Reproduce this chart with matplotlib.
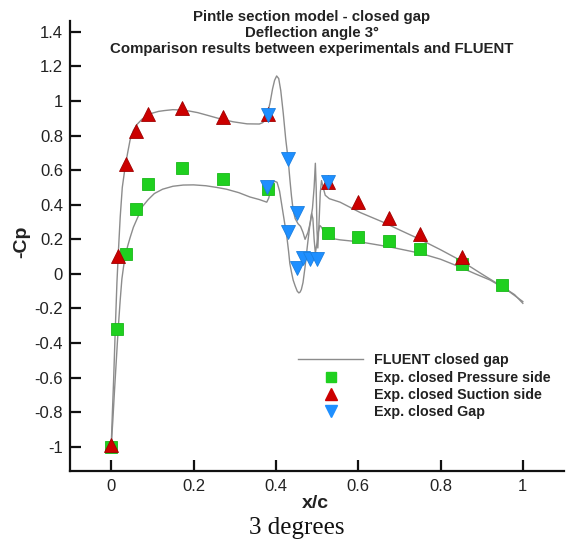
import numpy as np
import matplotlib
matplotlib.use("Agg")
import matplotlib.pyplot as plt
from matplotlib.lines import Line2D
from matplotlib.ticker import FuncFormatter

# FLUENT closed gap: suction branch then pressure branch
fluent_upper_x = [0.0, 0.003, 0.006, 0.01, 0.014, 0.018, 0.022, 0.027, 0.034, 0.04, 0.046,
                  0.054, 0.063, 0.075, 0.087, 0.1, 0.115, 0.13, 0.15, 0.17, 0.19, 0.21,
                  0.233, 0.26, 0.296, 0.33, 0.36, 0.368, 0.374, 0.38, 0.386, 0.392, 0.397,
                  0.402, 0.407, 0.412, 0.418, 0.424, 0.43, 0.434, 0.438, 0.442, 0.447,
                  0.454, 0.46, 0.466, 0.471, 0.478, 0.484, 0.489, 0.493, 0.496, 0.498,
                  0.5, 0.502, 0.505, 0.508, 0.511, 0.515, 0.52, 0.53, 0.556, 0.605, 0.66,
                  0.7, 0.75, 0.8, 0.847, 0.9, 0.951, 0.98, 1.0]
fluent_upper_y = [-1.0, -0.8, -0.61, -0.32, -0.05, 0.15, 0.33, 0.5, 0.62, 0.7, 0.775,
                  0.83, 0.865, 0.895, 0.915, 0.93, 0.94, 0.945, 0.95, 0.948, 0.942, 0.933,
                  0.918, 0.9, 0.88, 0.868, 0.867, 0.875, 0.89, 0.93, 0.99, 1.07, 1.12,
                  1.145, 1.13, 1.06, 0.93, 0.78, 0.66, 0.55, 0.45, 0.37, 0.32, 0.29,
                  0.275, 0.24, 0.2, 0.24, 0.3, 0.38, 0.5, 0.64, 0.5, 0.25, 0.15, 0.3,
                  0.47, 0.54, 0.5, 0.455, 0.435, 0.415, 0.355, 0.3, 0.255, 0.2, 0.14,
                  0.08, 0.0, -0.075, -0.12, -0.17]
fluent_lower_x = [0.0, 0.004, 0.008, 0.012, 0.017, 0.022, 0.026, 0.03, 0.034, 0.04, 0.046,
                  0.054, 0.065, 0.076, 0.09, 0.105, 0.125, 0.15, 0.175, 0.2, 0.23, 0.257,
                  0.28, 0.31, 0.337, 0.36, 0.372, 0.378, 0.383, 0.388, 0.393, 0.398,
                  0.403, 0.409, 0.415, 0.421, 0.427, 0.431, 0.434, 0.438, 0.442, 0.447,
                  0.452, 0.456, 0.459, 0.462, 0.466, 0.471, 0.477, 0.483, 0.487, 0.49,
                  0.493, 0.496, 0.5, 0.503, 0.507, 0.511, 0.515, 0.524, 0.536, 0.556,
                  0.605, 0.677, 0.75, 0.8, 0.847, 0.885, 0.92, 0.96, 1.0]
fluent_lower_y = [-1.0, -0.85, -0.68, -0.52, -0.32, -0.15, -0.03, 0.04, 0.1, 0.16, 0.21,
                  0.27, 0.33, 0.39, 0.43, 0.465, 0.49, 0.507, 0.514, 0.515, 0.51, 0.5,
                  0.49, 0.47, 0.445, 0.43, 0.42, 0.415, 0.44, 0.5, 0.53, 0.535, 0.53,
                  0.48, 0.39, 0.3, 0.21, 0.13, 0.06, 0.01, -0.035, -0.07, -0.1, -0.11,
                  -0.105, -0.09, -0.05, 0.04, 0.17, 0.29, 0.35, 0.32, 0.2, 0.12, 0.18,
                  0.24, 0.28, 0.27, 0.25, 0.225, 0.205, 0.197, 0.185, 0.156, 0.12,
                  0.085, 0.04, 0.0, -0.035, -0.09, -0.16]

# experimental points
pressure_x = [0.0, 0.015, 0.036, 0.061, 0.09, 0.172, 0.272, 0.381, 0.527, 0.6, 0.675,
              0.75, 0.852, 0.949]
pressure_y = [-1.0, -0.32, 0.116, 0.376, 0.52, 0.613, 0.55, 0.49, 0.235, 0.214, 0.19,
              0.145, 0.058, -0.064]
suction_x = [0.0, 0.017, 0.036, 0.061, 0.09, 0.172, 0.272, 0.381, 0.527, 0.6, 0.675,
             0.75, 0.852]
suction_y = [-0.99, 0.104, 0.636, 0.827, 0.925, 0.96, 0.908, 0.925, 0.532, 0.416, 0.324,
             0.231, 0.1]
gap_x = [0.381, 0.378, 0.43, 0.451, 0.43, 0.451, 0.466, 0.483, 0.5, 0.527]
gap_y = [0.92, 0.5, 0.665, 0.355, 0.24, 0.035, 0.09, 0.085, 0.085, 0.53]

title_lines = ["Pintle section model - closed gap",
               "Deflection angle 3\u00b0",
               "Comparison results between experimentals and FLUENT"]
legend_labels = ["FLUENT closed gap", "Exp. closed Pressure side",
                 "Exp. closed Suction side", "Exp. closed Gap"]
x_ticks = [0, 0.2, 0.4, 0.6, 0.8, 1.0]
y_ticks = [-1, -0.8, -0.6, -0.4, -0.2, 0, 0.2, 0.4, 0.6, 0.8, 1.0, 1.2, 1.4]

plt.rcParams["font.family"] = ["Liberation Sans", "DejaVu Sans"]

line_color = "#8c8c8c"
green = "#1fd01f"
red = "#cc0000"
blue = "#1e8fff"

fig = plt.figure(figsize=(5.76, 5.45), dpi=100)
ax = fig.add_axes([70 / 576, 74 / 545, 494 / 576, 449.5 / 545])

ax.plot(fluent_upper_x, fluent_upper_y, color=line_color, lw=1.0, zorder=2)
ax.plot(fluent_lower_x, fluent_lower_y, color=line_color, lw=1.0, zorder=2)
ax.plot(pressure_x, pressure_y, ls="none", marker="s", ms=8.5, mfc=green,
        mec="#19b819", mew=0.6, zorder=3)
ax.plot(suction_x, suction_y, ls="none", marker="^", ms=10, mfc=red,
        mec="#a00000", mew=0.6, zorder=4)
ax.plot(gap_x, gap_y, ls="none", marker="v", ms=10, mfc=blue,
        mec="#1a7fe0", mew=0.6, zorder=5)

ax.set_xlim(-0.1, 1.1)
ax.set_ylim(-1.14, 1.46)
ax.set_xticks(x_ticks)
ax.set_yticks(y_ticks)
fmt = FuncFormatter(lambda v, _: f"{round(v, 2):g}")
ax.xaxis.set_major_formatter(fmt)
ax.yaxis.set_major_formatter(fmt)
ax.tick_params(direction="in", length=8, width=1.6, labelsize=12,
               labelcolor="#222222", colors="#111111")
ax.tick_params(axis="y", pad=5)
ax.tick_params(axis="x", pad=6)
for side in ("top", "right"):
    ax.spines[side].set_visible(False)
for side in ("left", "bottom"):
    ax.spines[side].set_linewidth(1.6)
    ax.spines[side].set_color("#111111")

ax.set_xlabel("x/c", fontsize=14, fontweight="bold", color="#222222")
ax.xaxis.set_label_coords(0.497, -0.072)
ax.xaxis.label.set_va("center")
ax.set_ylabel("-Cp", fontsize=14, fontweight="bold", color="#222222")
ax.yaxis.set_label_coords(-0.097, 0.51)
ax.yaxis.label.set_va("center")

for i, line in enumerate(title_lines):
    fig.text(312 / 576, 1 - (17.5 + 15.5 * i) / 545, line, ha="center", va="center",
             fontsize=10.8, fontweight="bold", color="#222222")

handles = [
    Line2D([], [], color=line_color, lw=1.0),
    Line2D([], [], ls="none", marker="s", ms=7, mfc=green, mec=green),
    Line2D([], [], ls="none", marker="^", ms=8, mfc=red, mec=red),
    Line2D([], [], ls="none", marker="v", ms=8, mfc=blue, mec=blue),
]
leg = ax.legend(handles, legend_labels, loc="upper left",
                bbox_to_anchor=(287 / 576, 1 - 342 / 545), bbox_transform=fig.transFigure,
                frameon=False, fontsize=10.3, handlelength=4.5, handletextpad=0.8,
                labelspacing=0.22, borderpad=0.3)
for txt in leg.get_texts():
    txt.set_fontweight("bold")
    txt.set_color("#222222")

fig.text(297 / 576, 1 - 528 / 545, "3 degrees", ha="center", va="center",
         fontsize=18, family=["Liberation Serif", "DejaVu Serif"], color="#111111")

fig.savefig("out.png", dpi=100)
